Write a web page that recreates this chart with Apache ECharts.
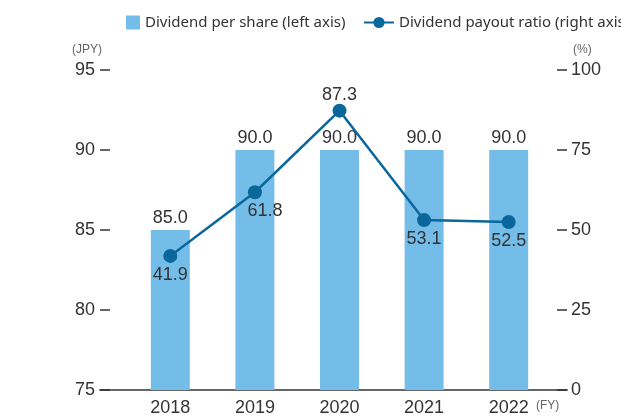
<!DOCTYPE html>
<html>
<head>
<meta charset="utf-8">
<script src="https://cdn.jsdelivr.net/npm/echarts@6/dist/echarts.min.js"></script>
<style>
  html, body { margin: 0; padding: 0; background: #fff; }
  #chart { width: 621px; height: 419px; }
</style>
</head>
<body>
<div id="chart"></div>
<script>
const years = ['2018', '2019', '2020', '2021', '2022'];
const dividendPerShare = [85.0, 90.0, 90.0, 90.0, 90.0];
const payoutRatio = [41.9, 61.8, 87.3, 53.1, 52.5];
const leftTicks = [75, 95, 5]; // min, max, interval
const rightTicks = [0, 100, 25];

const chart = echarts.init(document.getElementById('chart'));

const labelFont = '"Liberation Sans", Arial, sans-serif';
const legendText = { fontFamily: 'Noto Sans', fontSize: 15, color: '#333' };

chart.setOption({
  animation: false,
  // two legends so each icon gets its own size
  legend: [
    {
      left: 121,
      top: 10,
      itemWidth: 14,
      itemHeight: 14,
      itemGap: 6,
      textStyle: legendText,
      data: [{ name: 'Dividend per share (left axis)', icon: 'rect' }],
    },
    {
      left: 358,
      top: 10,
      itemWidth: 30,
      itemHeight: 14,
      textStyle: legendText,
      data: [{ name: 'Dividend payout ratio (right axis)' }],
    },
  ],
  grid: [
    { left: 128, right: 70, top: 70, bottom: 29 },
    // wider grid just for the baseline, which runs under both y axes
    { left: 100, right: 54, top: 70, bottom: 29 },
  ],
  xAxis: [
    {
      type: 'category',
      gridIndex: 0,
      data: years,
      axisLine: { show: false },
      axisTick: { show: false },
      axisLabel: {
        color: '#333',
        fontSize: 18,
        fontFamily: labelFont,
        margin: 9,
      },
      name: '(FY)',
      nameLocation: 'end',
      nameGap: -15,
      nameTextStyle: {
        color: '#666',
        fontSize: 12,
        fontFamily: labelFont,
        verticalAlign: 'top',
        padding: [10, 0, 0, 0],
      },
    },
    {
      type: 'value',
      gridIndex: 1,
      min: 0,
      max: 1,
      axisLine: { show: true, lineStyle: { color: '#666', width: 2 } },
      axisTick: { show: false },
      axisLabel: { show: false },
      splitLine: { show: false },
    },
  ],
  yAxis: [
    {
      type: 'value',
      gridIndex: 0,
      position: 'left',
      offset: 28,
      min: leftTicks[0],
      max: leftTicks[1],
      interval: leftTicks[2],
      axisLine: { show: false },
      axisTick: { show: true, inside: true, length: 10, lineStyle: { color: '#333', width: 1.5 } },
      axisLabel: { color: '#333', fontSize: 18, fontFamily: labelFont, margin: 5 },
      splitLine: { show: false },
      name: '(JPY)',
      nameLocation: 'end',
      nameGap: 14,
      nameTextStyle: { color: '#666', fontSize: 12, fontFamily: labelFont, align: 'right', padding: [0, -2, 0, 0] },
    },
    {
      type: 'value',
      gridIndex: 0,
      position: 'right',
      offset: 16,
      min: rightTicks[0],
      max: rightTicks[1],
      interval: rightTicks[2],
      axisLine: { show: false },
      axisTick: { show: true, inside: true, length: 10, lineStyle: { color: '#333', width: 1.5 } },
      axisLabel: { color: '#333', fontSize: 18, fontFamily: labelFont, margin: 4 },
      splitLine: { show: false },
      name: '(%)',
      nameLocation: 'end',
      nameGap: 14,
      nameTextStyle: { color: '#666', fontSize: 12, fontFamily: labelFont, align: 'left', padding: [0, 0, 0, 6] },
    },
    {
      type: 'value',
      gridIndex: 1,
      show: false,
      min: 0,
      max: 1,
    },
  ],
  series: [
    {
      name: 'Dividend per share (left axis)',
      type: 'bar',
      xAxisIndex: 0,
      yAxisIndex: 0,
      barWidth: 39,
      itemStyle: { color: '#74bde8' },
      label: {
        show: true,
        position: 'top',
        distance: 3,
        color: '#333',
        fontSize: 18,
        fontFamily: labelFont,
        formatter: (p) => p.value.toFixed(1),
      },
      data: dividendPerShare,
      z: 1,
    },
    {
      name: 'Dividend payout ratio (right axis)',
      type: 'line',
      xAxisIndex: 0,
      yAxisIndex: 1,
      symbol: 'circle',
      symbolSize: 14,
      itemStyle: { color: '#0a679c' },
      lineStyle: { color: '#0a679c', width: 2.5 },
      label: {
        show: true,
        position: 'bottom',
        distance: 3,
        color: '#333',
        fontSize: 18,
        fontFamily: labelFont,
        formatter: (p) => p.value.toFixed(1),
      },
      data: payoutRatio.map((v, i) => {
        if (i === 2) return { value: v, label: { position: 'top', distance: 0 } };
        if (i === 1) return { value: v, label: { offset: [10, 0] } };
        return v;
      }),
      z: 3,
    },
  ],
});
</script>
</body>
</html>
